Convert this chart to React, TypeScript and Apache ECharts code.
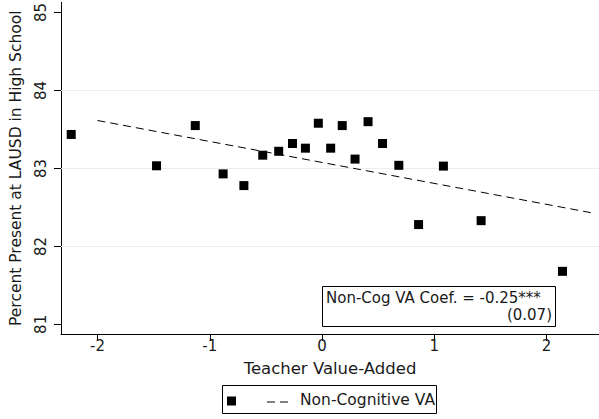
import React, { useEffect, useRef } from "react";
import * as echarts from "echarts";

const pointX = [-2.234, -1.474, -1.129, -0.881, -0.696, -0.528, -0.386, -0.263, -0.148, -0.033, 0.077, 0.18, 0.294, 0.41, 0.539, 0.684, 0.86, 1.081, 1.417, 2.142];
const pointY = [83.436, 83.034, 83.55, 82.93, 82.78, 83.17, 83.22, 83.32, 83.26, 83.58, 83.26, 83.55, 83.12, 83.6, 83.32, 83.04, 82.28, 83.03, 82.33, 81.68];
const fitX = [-2.0, 2.394];
const fitY = [83.615, 82.433];
const xTicks = [-2, -1, 0, 1, 2];
const yTicks = [81, 82, 83, 84, 85];
const gridValues = [82, 83, 84];
const xTitle = "Teacher Value-Added";
const yTitle = "Percent Present at LAUSD in High School";
const coefText = "Non-Cog VA Coef. = -0.25***";
const seText = "(0.07)";
const legendLabel = "Non-Cognitive VA";

const FONT = "DejaVu Sans";
const TXT = "#1a1a1a";

export default function App() {
  const ref = useRef<HTMLDivElement>(null);
  useEffect(() => {
    if (!ref.current) return;
    const chart = echarts.init(ref.current, null, { renderer: "svg" });
    chart.setOption({
      animation: false,
      backgroundColor: "#ffffff",
      textStyle: { fontFamily: FONT },
      grid: { left: 57, right: 0, top: 0, bottom: 85, containLabel: false },
      xAxis: {
        type: "value",
        min: -2.325,
        max: 2.467,
        name: xTitle,
        nameLocation: "middle",
        nameGap: 26,
        nameTextStyle: { fontFamily: FONT, fontSize: 16.5, color: TXT },
        axisLine: { show: true, onZero: false, lineStyle: { color: "#000", width: 1 } },
        axisTick: { show: true, length: 7, customValues: xTicks, lineStyle: { color: "#000" } },
        axisLabel: { customValues: xTicks, fontFamily: FONT, fontSize: 15, color: TXT, margin: 4, formatter: (v: number) => String(v) },
        splitLine: { show: false },
      },
      yAxis: {
        type: "value",
        min: 80.876,
        max: 85.13,
        name: yTitle,
        nameLocation: "middle",
        nameGap: 37,
        nameRotate: 90,
        nameTextStyle: { fontFamily: FONT, fontSize: 15.5, color: TXT },
        axisLine: { show: true, onZero: false, lineStyle: { color: "#000", width: 1 } },
        axisTick: { show: true, length: 7, customValues: yTicks, lineStyle: { color: "#000" } },
        axisLabel: { customValues: yTicks, rotate: 90, fontFamily: FONT, fontSize: 15, color: TXT, margin: 13, formatter: (v: number) => String(v) },
        splitLine: { show: false },
      },
      series: [
        {
          type: "scatter",
          symbol: "rect",
          symbolSize: 9,
          itemStyle: { color: "#000", opacity: 1 },
          data: pointX.map((x, i) => [x, pointY[i]]),
          z: 3,
          markLine: {
            silent: true,
            symbol: "none",
            label: { show: false },
            lineStyle: { color: "#e6eef0", width: 1, type: "solid" },
            data: gridValues.map((v) => ({ yAxis: v })),
            z: 1,
          },
        },
        {
          type: "line",
          showSymbol: false,
          symbol: "none",
          lineStyle: { color: "#000", width: 1, type: [8, 5] },
          data: fitX.map((x, i) => [x, fitY[i]]),
          z: 2,
        },
      ],
      graphic: [
        {
          type: "rect",
          shape: { x: 322.5, y: 286.5, width: 233, height: 40 },
          style: { fill: "#fff", stroke: "#000", lineWidth: 1 },
          z: 10,
        },
        {
          type: "text",
          x: 326,
          y: 290,
          style: { text: coefText, fontFamily: FONT, fontSize: 15, fill: TXT, textAlign: "left", textVerticalAlign: "top" },
          z: 11,
        },
        {
          type: "text",
          x: 552,
          y: 307,
          style: { text: seText, fontFamily: FONT, fontSize: 15, fill: TXT, textAlign: "right", textVerticalAlign: "top" },
          z: 11,
        },
        {
          type: "rect",
          shape: { x: 222.5, y: 385.5, width: 214, height: 28 },
          style: { fill: "#fff", stroke: "#000", lineWidth: 1 },
        },
        {
          type: "rect",
          shape: { x: 227, y: 396.5, width: 9, height: 9 },
          style: { fill: "#000" },
        },
        {
          type: "line",
          shape: { x1: 267, y1: 402, x2: 289, y2: 402 },
          style: { stroke: "#000", lineWidth: 1, lineDash: [8, 5] },
        },
        {
          type: "text",
          x: 300,
          y: 400,
          style: { text: legendLabel, fontFamily: FONT, fontSize: 15.5, fill: TXT, textAlign: "left", textVerticalAlign: "middle" },
        },
      ],
    });
    return () => chart.dispose();
  }, []);
  return <div ref={ref} style={{ position: "absolute", left: 0, top: 0, width: 599, height: 419 }} />;
}
